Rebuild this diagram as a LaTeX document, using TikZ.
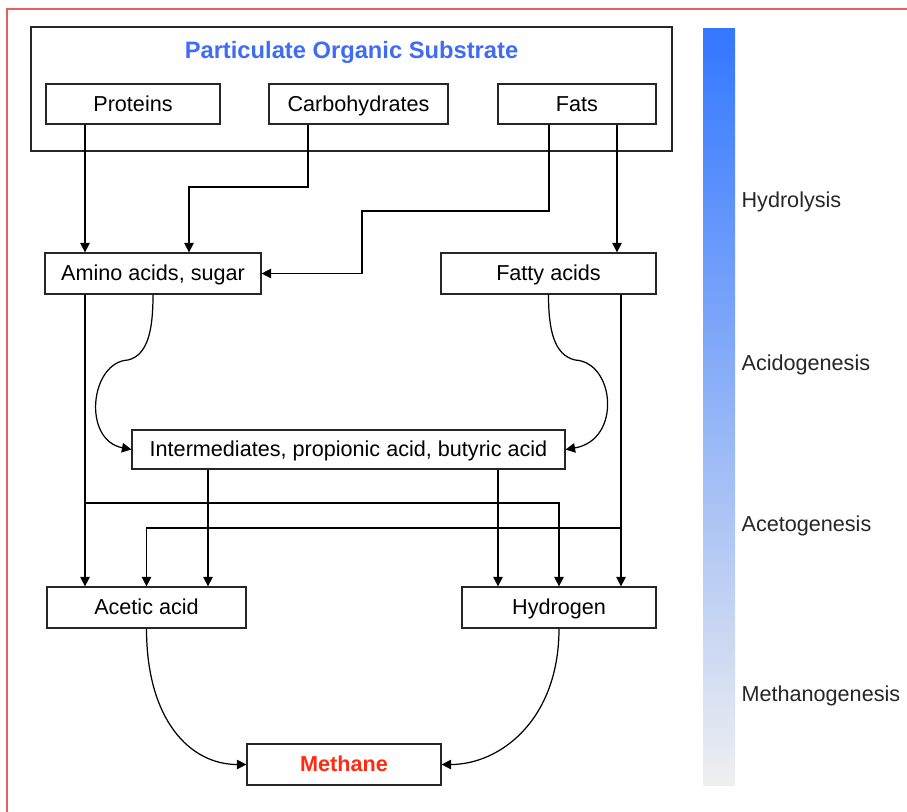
\documentclass[tikz,border=0pt]{standalone}
\usepackage{fontspec}
\setmainfont{Liberation Sans}
\usetikzlibrary{arrows.meta}
\definecolor{titleblue}{HTML}{3F6BF5}
\definecolor{methred}{HTML}{FF2A10}
\definecolor{barblue}{HTML}{3377FF}
\definecolor{bargray}{HTML}{EFEFF0}
\definecolor{framered}{HTML}{E86060}
\begin{document}
\begin{tikzpicture}[>={Triangle[length=1.9mm,width=1.9mm]},x=0.02cm,y=-0.02cm,line width=0.7pt,
		box/.style={draw=black!85,rectangle,inner sep=0pt,minimum height=0.8cm,text height=0.85em,text depth=0pt,font=\fontsize{12.3}{14}\selectfont},
		stage/.style={anchor=west,inner sep=0pt,font=\fontsize{12.3}{14}\selectfont,text=black!85}]
				\useasboundingbox (0,0) rectangle (907,812);
				\draw[framered] (7,812) -- (7,9) -- (907,9);
				\node[draw=black!85,minimum width=12.82cm,minimum height=2.48cm] (sub) at (351.5,89) {};
				\node[text=titleblue,text height=0.72em,text depth=0pt,font=\fontsize{13.5}{16}\selectfont\bfseries] (ti) at (351.5,52) {Particulate Organic Substrate};
				\node[box,minimum width=3.48cm] (pr) at (133,104) {Proteins};
				\node[box,minimum width=3.58cm] (ca) at (358.5,104) {Carbohydrates};
				\node[box,minimum width=3.16cm] (fa) at (577,104) {Fats};
				\node[box,minimum width=4.32cm,minimum height=0.82cm] (am) at (153,273.5) {Amino acids, sugar};
				\node[box,minimum width=4.30cm,minimum height=0.82cm] (ft) at (548.5,273.5) {Fatty acids};
				\node[box,minimum width=8.66cm,minimum height=0.78cm] (in) at (348.5,449.5) {Intermediates, propionic acid, butyric acid};
				\node[box,minimum width=3.98cm,minimum height=0.82cm] (ac) at (146.5,607.5) {Acetic acid};
				\node[box,minimum width=3.88cm,minimum height=0.82cm] (hy) at (559,607.5) {Hydrogen};
				\node[box,minimum width=3.88cm,minimum height=0.82cm,text=methred,font=\fontsize{12.3}{14}\selectfont\bfseries] (me) at (344,764.5) {Methane};
				% hydrolysis
				\draw[->] (pr.south -| 85,0) -- (am.north -| 85,0);
				\draw[->] (ca.south -| 308,0) -- (308,187) -| (am.north -| 189,0);
				\draw[->] (fa.south -| 549,0) -- (549,211) -| (362,273.5) -- (am.east);
				\draw[->] (fa.south -| 617,0) -- (ft.north -| 617,0);
				% acidogenesis
				\draw[->] (am.south) .. controls (153,330) and (148,355) .. (128,360) .. controls (90,362) and (82,440) .. (in.west);
				\draw[->] (ft.south) .. controls (548.5,330) and (554,355) .. (575,360) .. controls (615,362) and (622,440) .. (in.east);
				% acetogenesis
				\draw[->] (am.south -| 85,0) -- (ac.north -| 85,0);
				\draw[->] (am.south -| 85,0) -- (85,503) -| (hy.north);
				\draw[->] (in.south -| 208,0) -- (ac.north -| 208,0);
				\draw[->] (in.south -| 498,0) -- (hy.north -| 498,0);
				\draw[->] (ft.south -| 621,0) -- (hy.north -| 621,0);
				\draw[->] (ft.south -| 621,0) -- (621,528) -| (ac.north);
				% methanogenesis
				\draw[->] (ac.south) .. controls (146.5,720) and (190,764.5) .. (me.west);
				\draw[->] (hy.south) .. controls (559,720) and (500,764.5) .. (me.east);
				% stage bar
				\shade[top color=barblue,middle color=barblue!55!bargray,bottom color=bargray] (703,28) rectangle (735,785);
				\foreach \y/\name in {202/Hydrolysis,365/Acidogenesis,526/Acetogenesis,696/Methanogenesis}
				\node[stage] at (741,\y) {\name};
			\end{tikzpicture}
\end{document}
